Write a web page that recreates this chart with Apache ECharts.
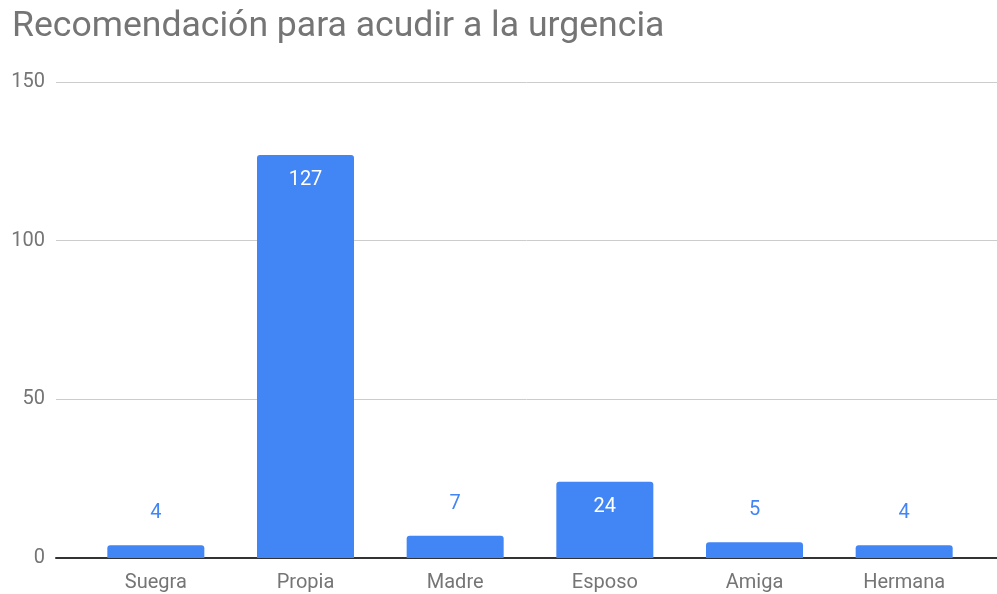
<!DOCTYPE html>
<html>
<head>
<meta charset="utf-8">
<script src="https://cdn.jsdelivr.net/npm/echarts@6/dist/echarts.min.js"></script>
<style>
  html, body { margin: 0; padding: 0; background: #fff; }
  #chart { width: 997px; height: 594px; }
</style>
</head>
<body>
<div id="chart"></div>
<script>
// datos del gráfico
const categorias = ["Suegra", "Propia", "Madre", "Esposo", "Amiga", "Hermana"];
const valores = [4, 127, 7, 24, 5, 4];
const ticksY = [0, 50, 100, 150];

const azul = "#4285f4";
const gris = "#757575";

const myChart = echarts.init(document.getElementById("chart"));

const options = {
  animation: false,
  title: {
    text: "Recomendación para acudir a la urgencia",
    left: 7,
    top: 4,
    textStyle: {
      fontFamily: "Roboto",
      fontSize: 35.6,
      fontWeight: "normal",
      color: gris,
    },
  },
  // grid 0: líneas de fondo, grid 1: barras
  grid: [
    { left: 56, right: 0, top: 82, bottom: 36 },
    { left: 81, right: 18, top: 82, bottom: 36 },
  ],
  xAxis: [
    {
      gridIndex: 0,
      type: "value",
      min: 0,
      max: 1,
      axisLine: { show: true, lineStyle: { color: "#333", width: 2 } },
      axisTick: { show: false },
      axisLabel: { show: false },
      splitLine: { show: false },
    },
    {
      gridIndex: 1,
      type: "category",
      data: categorias,
      axisLine: { show: false },
      axisTick: { show: false },
      axisLabel: {
        color: gris,
        fontFamily: "Roboto",
        fontSize: 20,
        margin: 15,
      },
    },
  ],
  yAxis: [
    {
      gridIndex: 0,
      type: "value",
      min: ticksY[0],
      max: ticksY[ticksY.length - 1],
      interval: 50,
      axisLine: { show: false },
      axisTick: { show: false },
      axisLabel: {
        color: gris,
        fontFamily: "Roboto",
        fontSize: 20,
        margin: 11,
      },
      splitLine: { lineStyle: { color: "#cccccc", width: 1 } },
    },
    {
      gridIndex: 1,
      type: "value",
      min: ticksY[0],
      max: ticksY[ticksY.length - 1],
      show: false,
      splitLine: { show: false },
    },
  ],
  series: [
    {
      type: "bar",
      xAxisIndex: 1,
      yAxisIndex: 1,
      barWidth: 97,
      z: 3,
      data: valores.map((v) => ({
        value: v,
        label:
          v > 15
            ? { position: "insideTop", color: "#fff", distance: 15 }
            : { position: "top", color: azul, distance: 22 },
      })),
      itemStyle: { color: azul, borderRadius: [3, 3, 0, 0] },
      label: {
        show: true,
        fontFamily: "Roboto",
        fontSize: 20,
      },
    },
  ],
};

myChart.setOption(options);
</script>
</body>
</html>
